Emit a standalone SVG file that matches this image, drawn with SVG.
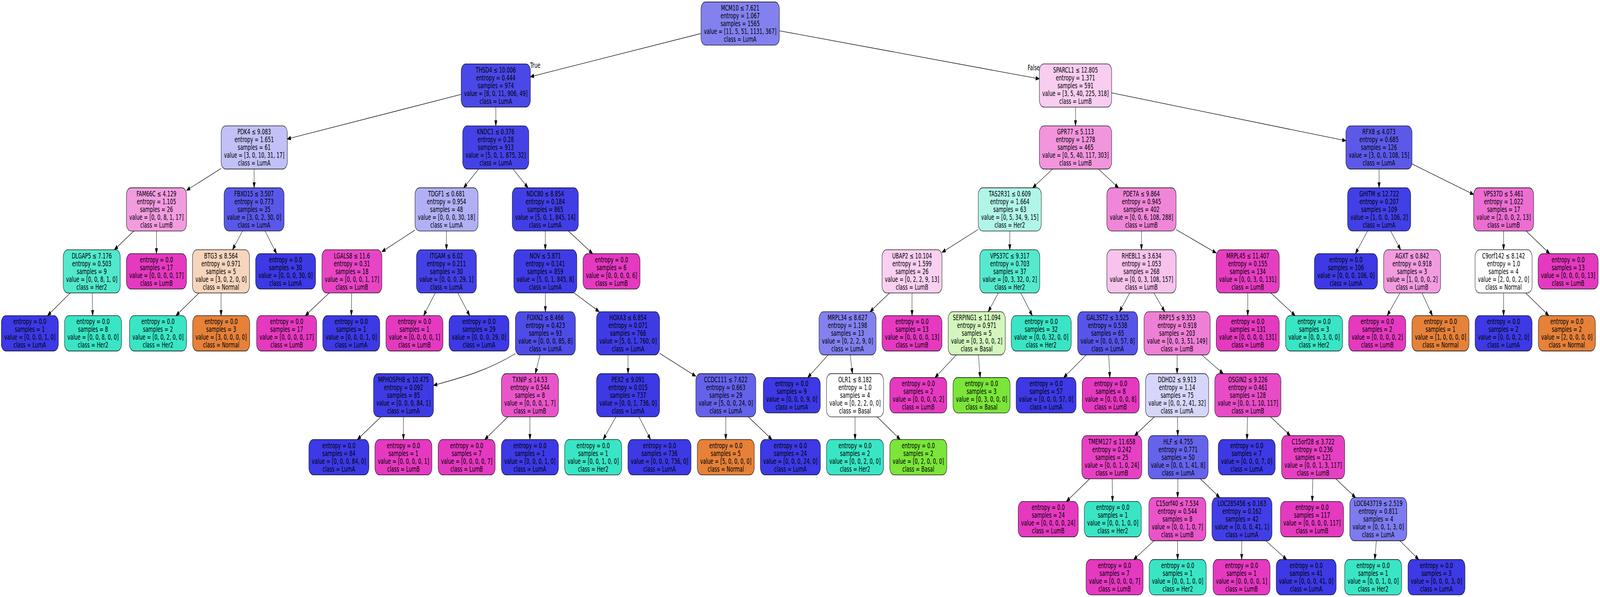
<svg xmlns="http://www.w3.org/2000/svg" width="6241" height="1529" viewBox="0 0 6241 1529" preserveAspectRatio="none">
<style>
svg{width:100%;height:100%}
text{font-family:"DejaVu Sans","Liberation Sans",sans-serif;font-size:18.67px;text-anchor:middle;fill:#000}
rect{stroke:#000;stroke-width:1.33}
rect.bg{fill:#fff;stroke:none}
.LA{fill:#3c39e5}.LB{fill:#e539c0}.H{fill:#39e5c5}.N{fill:#e58139}.Ba{fill:#7be539}
#edges line,#edges path{stroke:#000;stroke-width:1.33;fill:none;marker-end:url(#ah)}
</style>
<defs>
<marker id="ah" markerUnits="userSpaceOnUse" markerWidth="16" markerHeight="12" refX="13.33" refY="4.67" orient="auto" overflow="visible"><path d="M0,0 L13.33,4.67 L0,9.33 Z" fill="#000" stroke="#000" stroke-width="1.33"/></marker>
</defs>
<rect class="bg" x="0" y="0" width="6241" height="1529"/>
<g id="edges">
<line x1="2734.7" y1="85.7" x2="2068.7" y2="196.6"/>
<line x1="3039.7" y1="78.8" x2="4054" y2="201.9"/>
<line x1="1799.3" y1="241.7" x2="1120.6" y2="355.9"/>
<line x1="1934" y1="274.33" x2="1934" y2="322.33"/>
<line x1="862.6" y1="431.3" x2="727.6" y2="487.5"/>
<line x1="991.3" y1="433" x2="991.3" y2="481"/>
<line x1="522.2" y1="591.67" x2="445.9" y2="639.67"/>
<line x1="610.2" y1="591.67" x2="610.2" y2="649.67"/>
<line x1="273.7" y1="750.33" x2="185.4" y2="808.33"/>
<line x1="359.7" y1="750.33" x2="361.5" y2="808.33"/>
<line x1="946" y1="591.67" x2="907" y2="639.67"/>
<line x1="1033.9" y1="591.67" x2="1078.9" y2="649.67"/>
<line x1="776.3" y1="750.33" x2="686.5" y2="808.33"/>
<line x1="862.3" y1="750.33" x2="862.3" y2="808.33"/>
<line x1="1866.75" y1="433" x2="1808.65" y2="481"/>
<line x1="2001.1" y1="433" x2="2059.6" y2="481"/>
<line x1="1618.4" y1="589.35" x2="1489.7" y2="644.7"/>
<line x1="1741.5" y1="591.67" x2="1741.5" y2="639.67"/>
<line x1="1283.9" y1="750.33" x2="1190.8" y2="808.33"/>
<line x1="1371.5" y1="750.33" x2="1370.5" y2="808.33"/>
<line x1="1697.9" y1="750.33" x2="1652.3" y2="808.33"/>
<line x1="1785.7" y1="750.33" x2="1832.1" y2="808.33"/>
<line x1="2127" y1="591.67" x2="2127" y2="639.67"/>
<line x1="2217.1" y1="591.67" x2="2311.6" y2="649.67"/>
<line x1="2127.2" y1="750.33" x2="2127.2" y2="798.33"/>
<line x1="2239.6" y1="750.33" x2="2337.3" y2="798.33"/>
<path d="M2010.4,905.5 C1900,950 1800,967 1691.3,987"/>
<line x1="2106.4" y1="909" x2="2088.1" y2="957"/>
<line x1="1486" y1="1067.67" x2="1393.9" y2="1125.67"/>
<line x1="1573.8" y1="1067.67" x2="1573.7" y2="1125.67"/>
<line x1="1981" y1="1067.67" x2="1890.8" y2="1125.67"/>
<line x1="2067.1" y1="1067.67" x2="2067.1" y2="1125.67"/>
<line x1="2449.8" y1="909" x2="2449.8" y2="957"/>
<line x1="2572.8" y1="904.9" x2="2714" y2="963.6"/>
<line x1="2402.4" y1="1067.67" x2="2352.7" y2="1125.67"/>
<line x1="2492.6" y1="1067.67" x2="2537.4" y2="1125.67"/>
<line x1="2831.1" y1="1067.67" x2="2831" y2="1125.67"/>
<line x1="2918.9" y1="1067.67" x2="3011" y2="1125.67"/>
<line x1="4195.2" y1="274.33" x2="4195.2" y2="322.33"/>
<line x1="4336.45" y1="237.9" x2="5249.9" y2="360.4"/>
<line x1="4105.8" y1="433" x2="4028.2" y2="481"/>
<line x1="4284.9" y1="433" x2="4362.8" y2="481"/>
<line x1="3815.8" y1="587.5" x2="3674.5" y2="646.3"/>
<line x1="3938.8" y1="591.67" x2="3938.8" y2="639.67"/>
<line x1="3469.8" y1="750.33" x2="3393.7" y2="798.33"/>
<line x1="3557.5" y1="750.33" x2="3557.5" y2="808.33"/>
<line x1="3230.2" y1="909" x2="3150.6" y2="967"/>
<line x1="3316.2" y1="909" x2="3325" y2="957"/>
<line x1="3335.2" y1="1067.67" x2="3335.2" y2="1125.67"/>
<line x1="3421.3" y1="1067.67" x2="3511.5" y2="1125.67"/>
<line x1="3893.8" y1="750.33" x2="3854.8" y2="798.33"/>
<line x1="3981.6" y1="750.33" x2="4026.5" y2="808.33"/>
<line x1="3730.4" y1="909" x2="3647.1" y2="967"/>
<line x1="3816.4" y1="909" x2="3823.3" y2="967"/>
<line x1="4452.5" y1="591.67" x2="4452.5" y2="639.67"/>
<line x1="4587.8" y1="588.1" x2="4744" y2="647.9"/>
<line x1="4406.5" y1="750.33" x2="4366.5" y2="798.33"/>
<line x1="4501" y1="750.33" x2="4543" y2="798.33"/>
<line x1="4236.8" y1="909" x2="4149" y2="967"/>
<line x1="4324.7" y1="909" x2="4329.1" y2="967"/>
<line x1="4591.5" y1="909" x2="4591.5" y2="957"/>
<line x1="4687.7" y1="909" x2="4771.2" y2="957"/>
<line x1="4502.7" y1="1067.67" x2="4425.6" y2="1115.67"/>
<line x1="4592.9" y1="1067.67" x2="4594.1" y2="1115.67"/>
<line x1="4250.3" y1="1226.33" x2="4159.6" y2="1284.33"/>
<line x1="4338.2" y1="1226.33" x2="4339.6" y2="1284.33"/>
<line x1="4594.5" y1="1226.33" x2="4593.5" y2="1274.33"/>
<line x1="4682.3" y1="1226.33" x2="4757.7" y2="1274.33"/>
<line x1="4501.3" y1="1385" x2="4422.1" y2="1433"/>
<line x1="4593" y1="1385" x2="4593.6" y2="1433"/>
<line x1="4843.8" y1="1385" x2="4843.2" y2="1433"/>
<line x1="4937.7" y1="1385" x2="5018.6" y2="1433"/>
<line x1="4866" y1="1067.67" x2="4864" y2="1125.67"/>
<line x1="4956.2" y1="1067.67" x2="5033.2" y2="1115.67"/>
<line x1="5121" y1="1226.33" x2="5118.5" y2="1284.33"/>
<line x1="5210.6" y1="1226.33" x2="5287.5" y2="1274.33"/>
<line x1="5368.7" y1="1385" x2="5362.3" y2="1433"/>
<line x1="5460.6" y1="1385" x2="5533.9" y2="1433"/>
<line x1="4867" y1="750.33" x2="4867" y2="808.33"/>
<line x1="4957.2" y1="750.33" x2="5051.9" y2="808.33"/>
<line x1="5379.2" y1="433" x2="5379.2" y2="481"/>
<line x1="5507.9" y1="419.8" x2="5748" y2="498.1"/>
<line x1="5334.3" y1="591.67" x2="5287" y2="649.67"/>
<line x1="5424.3" y1="591.67" x2="5463.3" y2="639.67"/>
<line x1="5460.7" y1="750.33" x2="5411" y2="808.33"/>
<line x1="5546.7" y1="750.33" x2="5587.2" y2="808.33"/>
<line x1="5865" y1="591.67" x2="5865" y2="639.67"/>
<line x1="5952.8" y1="591.67" x2="6044.8" y2="649.67"/>
<line x1="5864.9" y1="750.33" x2="5864.9" y2="808.33"/>
<line x1="5951" y1="750.33" x2="6041.2" y2="808.33"/>
<text x="2088" y="174">True</text>
<text x="4032" y="180">False</text>
</g>
<g id="n0"><rect x="2734.4" y="5" width="305.6" height="110.67" rx="18" fill="#8381ee"/><text x="2887.2" y="27"><tspan x="2887.2">MCM10 ≤ 7.621</tspan><tspan x="2887.2" dy="20">entropy = 1.067</tspan><tspan x="2887.2" dy="20">samples = 1565</tspan><tspan x="2887.2" dy="20">value = [11, 5, 51, 1131, 367]</tspan><tspan x="2887.2" dy="20">class = LumA</tspan></text></g>
<g id="n1"><rect x="1799" y="163.67" width="270" height="110.67" rx="18" fill="#4a48e7"/><text x="1934" y="185.67"><tspan x="1934">THSD4 ≤ 10.006</tspan><tspan x="1934" dy="20">entropy = 0.444</tspan><tspan x="1934" dy="20">samples = 974</tspan><tspan x="1934" dy="20">value = [8, 0, 11, 906, 49]</tspan><tspan x="1934" dy="20">class = LumA</tspan></text></g>
<g id="n2"><rect x="862.6" y="322.33" width="258" height="110.67" rx="18" fill="#c1c0f7"/><text x="991.6" y="344.33"><tspan x="991.6">PDK4 ≤ 9.083</tspan><tspan x="991.6" dy="20">entropy = 1.651</tspan><tspan x="991.6" dy="20">samples = 61</tspan><tspan x="991.6" dy="20">value = [3, 0, 10, 31, 17]</tspan><tspan x="991.6" dy="20">class = LumA</tspan></text></g>
<g id="n3"><rect x="493.2" y="481" width="234" height="110.67" rx="18" fill="#f29ce0"/><text x="610.2" y="503"><tspan x="610.2">FAM66C ≤ 4.129</tspan><tspan x="610.2" dy="20">entropy = 1.105</tspan><tspan x="610.2" dy="20">samples = 26</tspan><tspan x="610.2" dy="20">value = [0, 0, 8, 1, 17]</tspan><tspan x="610.2" dy="20">class = LumB</tspan></text></g>
<g id="n4"><rect x="246.7" y="639.67" width="222.4" height="110.67" rx="18" fill="#52e8cc"/><text x="357.9" y="661.67"><tspan x="357.9">DLGAP5 ≤ 7.176</tspan><tspan x="357.9" dy="20">entropy = 0.503</tspan><tspan x="357.9" dy="20">samples = 9</tspan><tspan x="357.9" dy="20">value = [0, 0, 8, 1, 0]</tspan><tspan x="357.9" dy="20">class = Her2</tspan></text></g>
<g id="n5"><rect class="LA" x="5.2" y="808.33" width="222.4" height="90.67" rx="18"/><text x="116.4" y="830.33"><tspan x="116.4">entropy = 0.0</tspan><tspan x="116.4" dy="20">samples = 1</tspan><tspan x="116.4" dy="20">value = [0, 0, 0, 1, 0]</tspan><tspan x="116.4" dy="20">class = LumA</tspan></text></g>
<g id="n6"><rect class="H" x="251.8" y="808.33" width="222.4" height="90.67" rx="18"/><text x="363" y="830.33"><tspan x="363">entropy = 0.0</tspan><tspan x="363" dy="20">samples = 8</tspan><tspan x="363" dy="20">value = [0, 0, 8, 0, 0]</tspan><tspan x="363" dy="20">class = Her2</tspan></text></g>
<g id="n7"><rect class="LB" x="493.2" y="649.67" width="234" height="90.67" rx="18"/><text x="610.2" y="671.67"><tspan x="610.2">entropy = 0.0</tspan><tspan x="610.2" dy="20">samples = 17</tspan><tspan x="610.2" dy="20">value = [0, 0, 0, 0, 17]</tspan><tspan x="610.2" dy="20">class = LumB</tspan></text></g>
<g id="n8"><rect x="874" y="481" width="234" height="110.67" rx="18" fill="#5a58e9"/><text x="991" y="503"><tspan x="991">FBXO15 ≤ 3.507</tspan><tspan x="991" dy="20">entropy = 0.773</tspan><tspan x="991" dy="20">samples = 35</tspan><tspan x="991" dy="20">value = [3, 0, 2, 30, 0]</tspan><tspan x="991" dy="20">class = LumA</tspan></text></g>
<g id="n9"><rect x="750.8" y="639.67" width="222.4" height="110.67" rx="18" fill="#f6d5bd"/><text x="862" y="661.67"><tspan x="862">BTG3 ≤ 8.564</tspan><tspan x="862" dy="20">entropy = 0.971</tspan><tspan x="862" dy="20">samples = 5</tspan><tspan x="862" dy="20">value = [3, 0, 2, 0, 0]</tspan><tspan x="862" dy="20">class = Normal</tspan></text></g>
<g id="n10"><rect class="H" x="505.1" y="808.33" width="222.4" height="90.67" rx="18"/><text x="616.3" y="830.33"><tspan x="616.3">entropy = 0.0</tspan><tspan x="616.3" dy="20">samples = 2</tspan><tspan x="616.3" dy="20">value = [0, 0, 2, 0, 0]</tspan><tspan x="616.3" dy="20">class = Her2</tspan></text></g>
<g id="n11"><rect class="N" x="751.5" y="808.33" width="222.4" height="90.67" rx="18"/><text x="862.7" y="830.33"><tspan x="862.7">entropy = 0.0</tspan><tspan x="862.7" dy="20">samples = 3</tspan><tspan x="862.7" dy="20">value = [3, 0, 0, 0, 0]</tspan><tspan x="862.7" dy="20">class = Normal</tspan></text></g>
<g id="n12"><rect class="LA" x="997" y="649.67" width="234" height="90.67" rx="18"/><text x="1114" y="671.67"><tspan x="1114">entropy = 0.0</tspan><tspan x="1114" dy="20">samples = 30</tspan><tspan x="1114" dy="20">value = [0, 0, 0, 30, 0]</tspan><tspan x="1114" dy="20">class = LumA</tspan></text></g>
<g id="n13"><rect x="1804.7" y="322.33" width="258" height="110.67" rx="18" fill="#4442e6"/><text x="1933.7" y="344.33"><tspan x="1933.7">KNDC1 ≤ 0.376</tspan><tspan x="1933.7" dy="20">entropy = 0.28</tspan><tspan x="1933.7" dy="20">samples = 913</tspan><tspan x="1933.7" dy="20">value = [5, 0, 1, 875, 32]</tspan><tspan x="1933.7" dy="20">class = LumA</tspan></text></g>
<g id="n14"><rect x="1618.7" y="481" width="246" height="110.67" rx="18" fill="#b1b0f5"/><text x="1741.7" y="503"><tspan x="1741.7">TDGF1 ≤ 0.681</tspan><tspan x="1741.7" dy="20">entropy = 0.954</tspan><tspan x="1741.7" dy="20">samples = 48</tspan><tspan x="1741.7" dy="20">value = [0, 0, 0, 30, 18]</tspan><tspan x="1741.7" dy="20">class = LumA</tspan></text></g>
<g id="n15"><rect x="1255.7" y="639.67" width="234" height="110.67" rx="18" fill="#e745c4"/><text x="1372.7" y="661.67"><tspan x="1372.7">LGALS8 ≤ 11.6</tspan><tspan x="1372.7" dy="20">entropy = 0.31</tspan><tspan x="1372.7" dy="20">samples = 18</tspan><tspan x="1372.7" dy="20">value = [0, 0, 0, 1, 17]</tspan><tspan x="1372.7" dy="20">class = LumB</tspan></text></g>
<g id="n16"><rect class="LB" x="1001" y="808.33" width="234" height="90.67" rx="18"/><text x="1118" y="830.33"><tspan x="1118">entropy = 0.0</tspan><tspan x="1118" dy="20">samples = 17</tspan><tspan x="1118" dy="20">value = [0, 0, 0, 0, 17]</tspan><tspan x="1118" dy="20">class = LumB</tspan></text></g>
<g id="n17"><rect class="LA" x="1258.8" y="808.33" width="222.4" height="90.67" rx="18"/><text x="1370" y="830.33"><tspan x="1370">entropy = 0.0</tspan><tspan x="1370" dy="20">samples = 1</tspan><tspan x="1370" dy="20">value = [0, 0, 0, 1, 0]</tspan><tspan x="1370" dy="20">class = LumA</tspan></text></g>
<g id="n18"><rect x="1624.4" y="639.67" width="234" height="110.67" rx="18" fill="#4340e6"/><text x="1741.4" y="661.67"><tspan x="1741.4">ITGAM ≤ 6.02</tspan><tspan x="1741.4" dy="20">entropy = 0.211</tspan><tspan x="1741.4" dy="20">samples = 30</tspan><tspan x="1741.4" dy="20">value = [0, 0, 0, 29, 1]</tspan><tspan x="1741.4" dy="20">class = LumA</tspan></text></g>
<g id="n19"><rect class="LB" x="1505.5" y="808.33" width="222.4" height="90.67" rx="18"/><text x="1616.7" y="830.33"><tspan x="1616.7">entropy = 0.0</tspan><tspan x="1616.7" dy="20">samples = 1</tspan><tspan x="1616.7" dy="20">value = [0, 0, 0, 0, 1]</tspan><tspan x="1616.7" dy="20">class = LumB</tspan></text></g>
<g id="n20"><rect class="LA" x="1751.4" y="808.33" width="234" height="90.67" rx="18"/><text x="1868.4" y="830.33"><tspan x="1868.4">entropy = 0.0</tspan><tspan x="1868.4" dy="20">samples = 29</tspan><tspan x="1868.4" dy="20">value = [0, 0, 0, 29, 0]</tspan><tspan x="1868.4" dy="20">class = LumA</tspan></text></g>
<g id="n21"><rect x="1998" y="481" width="258" height="110.67" rx="18" fill="#413ee6"/><text x="2127" y="503"><tspan x="2127">NDC80 ≤ 8.854</tspan><tspan x="2127" dy="20">entropy = 0.184</tspan><tspan x="2127" dy="20">samples = 865</tspan><tspan x="2127" dy="20">value = [5, 0, 1, 845, 14]</tspan><tspan x="2127" dy="20">class = LumA</tspan></text></g>
<g id="n22"><rect x="2004.1" y="639.67" width="246" height="110.67" rx="18" fill="#3f3ce5"/><text x="2127.1" y="661.67"><tspan x="2127.1">NOV ≤ 5.871</tspan><tspan x="2127.1" dy="20">entropy = 0.141</tspan><tspan x="2127.1" dy="20">samples = 859</tspan><tspan x="2127.1" dy="20">value = [5, 0, 1, 845, 8]</tspan><tspan x="2127.1" dy="20">class = LumA</tspan></text></g>
<g id="n23"><rect x="2010.4" y="798.33" width="234" height="110.67" rx="18" fill="#4e4ce7"/><text x="2127.4" y="820.33"><tspan x="2127.4">FOXN2 ≤ 8.466</tspan><tspan x="2127.4" dy="20">entropy = 0.423</tspan><tspan x="2127.4" dy="20">samples = 93</tspan><tspan x="2127.4" dy="20">value = [0, 0, 0, 85, 8]</tspan><tspan x="2127.4" dy="20">class = LumA</tspan></text></g>
<g id="n24"><rect x="1456.9" y="957" width="234" height="110.67" rx="18" fill="#3e3be5"/><text x="1573.9" y="979"><tspan x="1573.9">MPHOSPH8 ≤ 10.475</tspan><tspan x="1573.9" dy="20">entropy = 0.092</tspan><tspan x="1573.9" dy="20">samples = 85</tspan><tspan x="1573.9" dy="20">value = [0, 0, 0, 84, 1]</tspan><tspan x="1573.9" dy="20">class = LumA</tspan></text></g>
<g id="n25"><rect class="LA" x="1204.9" y="1125.67" width="234" height="90.67" rx="18"/><text x="1321.9" y="1147.67"><tspan x="1321.9">entropy = 0.0</tspan><tspan x="1321.9" dy="20">samples = 84</tspan><tspan x="1321.9" dy="20">value = [0, 0, 0, 84, 0]</tspan><tspan x="1321.9" dy="20">class = LumA</tspan></text></g>
<g id="n26"><rect class="LB" x="1462.4" y="1125.67" width="222.4" height="90.67" rx="18"/><text x="1573.6" y="1147.67"><tspan x="1573.6">entropy = 0.0</tspan><tspan x="1573.6" dy="20">samples = 1</tspan><tspan x="1573.6" dy="20">value = [0, 0, 0, 0, 1]</tspan><tspan x="1573.6" dy="20">class = LumB</tspan></text></g>
<g id="n27"><rect x="1955.9" y="957" width="222.4" height="110.67" rx="18" fill="#e955c9"/><text x="2067.1" y="979"><tspan x="2067.1">TXNIP ≤ 14.53</tspan><tspan x="2067.1" dy="20">entropy = 0.544</tspan><tspan x="2067.1" dy="20">samples = 8</tspan><tspan x="2067.1" dy="20">value = [0, 0, 0, 1, 7]</tspan><tspan x="2067.1" dy="20">class = LumB</tspan></text></g>
<g id="n28"><rect class="LB" x="1709.1" y="1125.67" width="222.4" height="90.67" rx="18"/><text x="1820.3" y="1147.67"><tspan x="1820.3">entropy = 0.0</tspan><tspan x="1820.3" dy="20">samples = 7</tspan><tspan x="1820.3" dy="20">value = [0, 0, 0, 0, 7]</tspan><tspan x="1820.3" dy="20">class = LumB</tspan></text></g>
<g id="n29"><rect class="LA" x="1955.9" y="1125.67" width="222.4" height="90.67" rx="18"/><text x="2067.1" y="1147.67"><tspan x="2067.1">entropy = 0.0</tspan><tspan x="2067.1" dy="20">samples = 1</tspan><tspan x="2067.1" dy="20">value = [0, 0, 0, 1, 0]</tspan><tspan x="2067.1" dy="20">class = LumA</tspan></text></g>
<g id="n30"><rect x="2326.8" y="798.33" width="246" height="110.67" rx="18" fill="#3e3be5"/><text x="2449.8" y="820.33"><tspan x="2449.8">HOXA3 ≤ 6.854</tspan><tspan x="2449.8" dy="20">entropy = 0.071</tspan><tspan x="2449.8" dy="20">samples = 766</tspan><tspan x="2449.8" dy="20">value = [5, 0, 1, 760, 0]</tspan><tspan x="2449.8" dy="20">class = LumA</tspan></text></g>
<g id="n31"><rect x="2326.8" y="957" width="246" height="110.67" rx="18" fill="#3c39e5"/><text x="2449.8" y="979"><tspan x="2449.8">PEX2 ≤ 9.091</tspan><tspan x="2449.8" dy="20">entropy = 0.015</tspan><tspan x="2449.8" dy="20">samples = 737</tspan><tspan x="2449.8" dy="20">value = [0, 0, 1, 736, 0]</tspan><tspan x="2449.8" dy="20">class = LumA</tspan></text></g>
<g id="n32"><rect class="H" x="2202.6" y="1125.67" width="222.4" height="90.67" rx="18"/><text x="2313.8" y="1147.67"><tspan x="2313.8">entropy = 0.0</tspan><tspan x="2313.8" dy="20">samples = 1</tspan><tspan x="2313.8" dy="20">value = [0, 0, 1, 0, 0]</tspan><tspan x="2313.8" dy="20">class = Her2</tspan></text></g>
<g id="n33"><rect class="LA" x="2449.5" y="1125.67" width="246" height="90.67" rx="18"/><text x="2572.5" y="1147.67"><tspan x="2572.5">entropy = 0.0</tspan><tspan x="2572.5" dy="20">samples = 736</tspan><tspan x="2572.5" dy="20">value = [0, 0, 0, 736, 0]</tspan><tspan x="2572.5" dy="20">class = LumA</tspan></text></g>
<g id="n34"><rect x="2714.1" y="957" width="234" height="110.67" rx="18" fill="#6562ea"/><text x="2831.1" y="979"><tspan x="2831.1">CCDC111 ≤ 7.622</tspan><tspan x="2831.1" dy="20">entropy = 0.663</tspan><tspan x="2831.1" dy="20">samples = 29</tspan><tspan x="2831.1" dy="20">value = [5, 0, 0, 24, 0]</tspan><tspan x="2831.1" dy="20">class = LumA</tspan></text></g>
<g id="n35"><rect class="N" x="2719.8" y="1125.67" width="222.4" height="90.67" rx="18"/><text x="2831" y="1147.67"><tspan x="2831">entropy = 0.0</tspan><tspan x="2831" dy="20">samples = 5</tspan><tspan x="2831" dy="20">value = [5, 0, 0, 0, 0]</tspan><tspan x="2831" dy="20">class = Normal</tspan></text></g>
<g id="n36"><rect class="LA" x="2966" y="1125.67" width="234" height="90.67" rx="18"/><text x="3083" y="1147.67"><tspan x="3083">entropy = 0.0</tspan><tspan x="3083" dy="20">samples = 24</tspan><tspan x="3083" dy="20">value = [0, 0, 0, 24, 0]</tspan><tspan x="3083" dy="20">class = LumA</tspan></text></g>
<g id="n37"><rect class="LB" x="2274.2" y="649.67" width="222.4" height="90.67" rx="18"/><text x="2385.4" y="671.67"><tspan x="2385.4">entropy = 0.0</tspan><tspan x="2385.4" dy="20">samples = 6</tspan><tspan x="2385.4" dy="20">value = [0, 0, 0, 0, 6]</tspan><tspan x="2385.4" dy="20">class = LumB</tspan></text></g>
<g id="n38"><rect x="4054.2" y="163.67" width="282" height="110.67" rx="18" fill="#f8cdef"/><text x="4195.2" y="185.67"><tspan x="4195.2">SPARCL1 ≤ 12.805</tspan><tspan x="4195.2" dy="20">entropy = 1.371</tspan><tspan x="4195.2" dy="20">samples = 591</tspan><tspan x="4195.2" dy="20">value = [3, 5, 40, 225, 318]</tspan><tspan x="4195.2" dy="20">class = LumB</tspan></text></g>
<g id="n39"><rect x="4054.2" y="322.33" width="282" height="110.67" rx="18" fill="#f195dd"/><text x="4195.2" y="344.33"><tspan x="4195.2">GPR77 ≤ 5.113</tspan><tspan x="4195.2" dy="20">entropy = 1.278</tspan><tspan x="4195.2" dy="20">samples = 465</tspan><tspan x="4195.2" dy="20">value = [0, 5, 40, 117, 303]</tspan><tspan x="4195.2" dy="20">class = LumB</tspan></text></g>
<g id="n40"><rect x="3815.8" y="481" width="246" height="110.67" rx="18" fill="#b1f5e8"/><text x="3938.8" y="503"><tspan x="3938.8">TAS2R31 ≤ 0.609</tspan><tspan x="3938.8" dy="20">entropy = 1.664</tspan><tspan x="3938.8" dy="20">samples = 63</tspan><tspan x="3938.8" dy="20">value = [0, 5, 34, 9, 15]</tspan><tspan x="3938.8" dy="20">class = Her2</tspan></text></g>
<g id="n41"><rect x="3440.5" y="639.67" width="234" height="110.67" rx="18" fill="#f9d0f0"/><text x="3557.5" y="661.67"><tspan x="3557.5">UBAP2 ≤ 10.104</tspan><tspan x="3557.5" dy="20">entropy = 1.599</tspan><tspan x="3557.5" dy="20">samples = 26</tspan><tspan x="3557.5" dy="20">value = [0, 2, 2, 9, 13]</tspan><tspan x="3557.5" dy="20">class = LumB</tspan></text></g>
<g id="n42"><rect x="3194.8" y="798.33" width="222.4" height="110.67" rx="18" fill="#8381ee"/><text x="3306" y="820.33"><tspan x="3306">MRPL34 ≤ 8.627</tspan><tspan x="3306" dy="20">entropy = 1.198</tspan><tspan x="3306" dy="20">samples = 13</tspan><tspan x="3306" dy="20">value = [0, 2, 2, 9, 0]</tspan><tspan x="3306" dy="20">class = LumA</tspan></text></g>
<g id="n43"><rect class="LA" x="2977.3" y="967" width="222.4" height="90.67" rx="18"/><text x="3088.5" y="989"><tspan x="3088.5">entropy = 0.0</tspan><tspan x="3088.5" dy="20">samples = 9</tspan><tspan x="3088.5" dy="20">value = [0, 0, 0, 9, 0]</tspan><tspan x="3088.5" dy="20">class = LumA</tspan></text></g>
<g id="n44"><rect x="3224" y="957" width="222.4" height="110.67" rx="18" fill="#ffffff"/><text x="3335.2" y="979"><tspan x="3335.2">OLR1 ≤ 8.182</tspan><tspan x="3335.2" dy="20">entropy = 1.0</tspan><tspan x="3335.2" dy="20">samples = 4</tspan><tspan x="3335.2" dy="20">value = [0, 2, 2, 0, 0]</tspan><tspan x="3335.2" dy="20">class = Basal</tspan></text></g>
<g id="n45"><rect class="H" x="3224" y="1125.67" width="222.4" height="90.67" rx="18"/><text x="3335.2" y="1147.67"><tspan x="3335.2">entropy = 0.0</tspan><tspan x="3335.2" dy="20">samples = 2</tspan><tspan x="3335.2" dy="20">value = [0, 0, 2, 0, 0]</tspan><tspan x="3335.2" dy="20">class = Her2</tspan></text></g>
<g id="n46"><rect class="Ba" x="3470.8" y="1125.67" width="222.4" height="90.67" rx="18"/><text x="3582" y="1147.67"><tspan x="3582">entropy = 0.0</tspan><tspan x="3582" dy="20">samples = 2</tspan><tspan x="3582" dy="20">value = [0, 2, 0, 0, 0]</tspan><tspan x="3582" dy="20">class = Basal</tspan></text></g>
<g id="n47"><rect class="LB" x="3440.5" y="808.33" width="234" height="90.67" rx="18"/><text x="3557.5" y="830.33"><tspan x="3557.5">entropy = 0.0</tspan><tspan x="3557.5" dy="20">samples = 13</tspan><tspan x="3557.5" dy="20">value = [0, 0, 0, 0, 13]</tspan><tspan x="3557.5" dy="20">class = LumB</tspan></text></g>
<g id="n48"><rect x="3821.8" y="639.67" width="234" height="110.67" rx="18" fill="#56e9ce"/><text x="3938.8" y="661.67"><tspan x="3938.8">VPS37C ≤ 9.317</tspan><tspan x="3938.8" dy="20">entropy = 0.703</tspan><tspan x="3938.8" dy="20">samples = 37</tspan><tspan x="3938.8" dy="20">value = [0, 3, 32, 0, 2]</tspan><tspan x="3938.8" dy="20">class = Her2</tspan></text></g>
<g id="n49"><rect x="3698.6" y="798.33" width="222.4" height="110.67" rx="18" fill="#d3f6bd"/><text x="3809.8" y="820.33"><tspan x="3809.8">SERPING1 ≤ 11.094</tspan><tspan x="3809.8" dy="20">entropy = 0.971</tspan><tspan x="3809.8" dy="20">samples = 5</tspan><tspan x="3809.8" dy="20">value = [0, 3, 0, 0, 2]</tspan><tspan x="3809.8" dy="20">class = Basal</tspan></text></g>
<g id="n50"><rect class="LB" x="3470.8" y="967" width="222.4" height="90.67" rx="18"/><text x="3582" y="989"><tspan x="3582">entropy = 0.0</tspan><tspan x="3582" dy="20">samples = 2</tspan><tspan x="3582" dy="20">value = [0, 0, 0, 0, 2]</tspan><tspan x="3582" dy="20">class = LumB</tspan></text></g>
<g id="n51"><rect class="Ba" x="3717.5" y="967" width="222.4" height="90.67" rx="18"/><text x="3828.7" y="989"><tspan x="3828.7">entropy = 0.0</tspan><tspan x="3828.7" dy="20">samples = 3</tspan><tspan x="3828.7" dy="20">value = [0, 3, 0, 0, 0]</tspan><tspan x="3828.7" dy="20">class = Basal</tspan></text></g>
<g id="n52"><rect class="H" x="3944.5" y="808.33" width="234" height="90.67" rx="18"/><text x="4061.5" y="830.33"><tspan x="4061.5">entropy = 0.0</tspan><tspan x="4061.5" dy="20">samples = 32</tspan><tspan x="4061.5" dy="20">value = [0, 0, 32, 0, 0]</tspan><tspan x="4061.5" dy="20">class = Her2</tspan></text></g>
<g id="n53"><rect x="4317.5" y="481" width="270" height="110.67" rx="18" fill="#ef86d8"/><text x="4452.5" y="503"><tspan x="4452.5">PDE7A ≤ 9.864</tspan><tspan x="4452.5" dy="20">entropy = 0.945</tspan><tspan x="4452.5" dy="20">samples = 402</tspan><tspan x="4452.5" dy="20">value = [0, 0, 6, 108, 288]</tspan><tspan x="4452.5" dy="20">class = LumB</tspan></text></g>
<g id="n54"><rect x="4317.5" y="639.67" width="270" height="110.67" rx="18" fill="#f7c2ec"/><text x="4452.5" y="661.67"><tspan x="4452.5">RHEBL1 ≤ 3.634</tspan><tspan x="4452.5" dy="20">entropy = 1.053</tspan><tspan x="4452.5" dy="20">samples = 268</tspan><tspan x="4452.5" dy="20">value = [0, 0, 3, 108, 157]</tspan><tspan x="4452.5" dy="20">class = LumB</tspan></text></g>
<g id="n55"><rect x="4203.5" y="798.33" width="234" height="110.67" rx="18" fill="#5755e9"/><text x="4320.5" y="820.33"><tspan x="4320.5">GAL3ST2 ≤ 3.525</tspan><tspan x="4320.5" dy="20">entropy = 0.538</tspan><tspan x="4320.5" dy="20">samples = 65</tspan><tspan x="4320.5" dy="20">value = [0, 0, 0, 57, 8]</tspan><tspan x="4320.5" dy="20">class = LumA</tspan></text></g>
<g id="n56"><rect class="LA" x="3963.4" y="967" width="234" height="90.67" rx="18"/><text x="4080.4" y="989"><tspan x="4080.4">entropy = 0.0</tspan><tspan x="4080.4" dy="20">samples = 57</tspan><tspan x="4080.4" dy="20">value = [0, 0, 0, 57, 0]</tspan><tspan x="4080.4" dy="20">class = LumA</tspan></text></g>
<g id="n57"><rect class="LB" x="4221.3" y="967" width="222.4" height="90.67" rx="18"/><text x="4332.5" y="989"><tspan x="4332.5">entropy = 0.0</tspan><tspan x="4332.5" dy="20">samples = 8</tspan><tspan x="4332.5" dy="20">value = [0, 0, 0, 0, 8]</tspan><tspan x="4332.5" dy="20">class = LumB</tspan></text></g>
<g id="n58"><rect x="4462.5" y="798.33" width="258" height="110.67" rx="18" fill="#ee7fd6"/><text x="4591.5" y="820.33"><tspan x="4591.5">RRP15 ≤ 9.353</tspan><tspan x="4591.5" dy="20">entropy = 0.918</tspan><tspan x="4591.5" dy="20">samples = 203</tspan><tspan x="4591.5" dy="20">value = [0, 0, 3, 51, 149]</tspan><tspan x="4591.5" dy="20">class = LumB</tspan></text></g>
<g id="n59"><rect x="4468.5" y="957" width="246" height="110.67" rx="18" fill="#d6d6fa"/><text x="4591.5" y="979"><tspan x="4591.5">DDHD2 ≤ 9.913</tspan><tspan x="4591.5" dy="20">entropy = 1.14</tspan><tspan x="4591.5" dy="20">samples = 75</tspan><tspan x="4591.5" dy="20">value = [0, 0, 2, 41, 32]</tspan><tspan x="4591.5" dy="20">class = LumA</tspan></text></g>
<g id="n60"><rect x="4219.8" y="1115.67" width="234" height="110.67" rx="18" fill="#e641c3"/><text x="4336.8" y="1137.67"><tspan x="4336.8">TMEM127 ≤ 11.658</tspan><tspan x="4336.8" dy="20">entropy = 0.242</tspan><tspan x="4336.8" dy="20">samples = 25</tspan><tspan x="4336.8" dy="20">value = [0, 0, 1, 0, 24]</tspan><tspan x="4336.8" dy="20">class = LumB</tspan></text></g>
<g id="n61"><rect class="LB" x="3971.7" y="1284.33" width="234" height="90.67" rx="18"/><text x="4088.7" y="1306.33"><tspan x="4088.7">entropy = 0.0</tspan><tspan x="4088.7" dy="20">samples = 24</tspan><tspan x="4088.7" dy="20">value = [0, 0, 0, 0, 24]</tspan><tspan x="4088.7" dy="20">class = LumB</tspan></text></g>
<g id="n62"><rect class="H" x="4229.5" y="1284.33" width="222.4" height="90.67" rx="18"/><text x="4340.7" y="1306.33"><tspan x="4340.7">entropy = 0.0</tspan><tspan x="4340.7" dy="20">samples = 1</tspan><tspan x="4340.7" dy="20">value = [0, 0, 1, 0, 0]</tspan><tspan x="4340.7" dy="20">class = Her2</tspan></text></g>
<g id="n63"><rect x="4478.5" y="1115.67" width="234" height="110.67" rx="18" fill="#6663eb"/><text x="4595.5" y="1137.67"><tspan x="4595.5">HLF ≤ 4.755</tspan><tspan x="4595.5" dy="20">entropy = 0.771</tspan><tspan x="4595.5" dy="20">samples = 50</tspan><tspan x="4595.5" dy="20">value = [0, 0, 1, 41, 8]</tspan><tspan x="4595.5" dy="20">class = LumA</tspan></text></g>
<g id="n64"><rect x="4481.3" y="1274.33" width="222.4" height="110.67" rx="18" fill="#e955c9"/><text x="4592.5" y="1296.33"><tspan x="4592.5">C15orf40 ≤ 7.534</tspan><tspan x="4592.5" dy="20">entropy = 0.544</tspan><tspan x="4592.5" dy="20">samples = 8</tspan><tspan x="4592.5" dy="20">value = [0, 0, 1, 0, 7]</tspan><tspan x="4592.5" dy="20">class = LumB</tspan></text></g>
<g id="n65"><rect class="LB" x="4236.2" y="1433" width="222.4" height="90.67" rx="18"/><text x="4347.4" y="1455"><tspan x="4347.4">entropy = 0.0</tspan><tspan x="4347.4" dy="20">samples = 7</tspan><tspan x="4347.4" dy="20">value = [0, 0, 0, 0, 7]</tspan><tspan x="4347.4" dy="20">class = LumB</tspan></text></g>
<g id="n66"><rect class="H" x="4482.6" y="1433" width="222.4" height="90.67" rx="18"/><text x="4593.8" y="1455"><tspan x="4593.8">entropy = 0.0</tspan><tspan x="4593.8" dy="20">samples = 1</tspan><tspan x="4593.8" dy="20">value = [0, 0, 1, 0, 0]</tspan><tspan x="4593.8" dy="20">class = Her2</tspan></text></g>
<g id="n67"><rect x="4727.5" y="1274.33" width="234" height="110.67" rx="18" fill="#413ee6"/><text x="4844.5" y="1296.33"><tspan x="4844.5">LOC285456 ≤ 0.163</tspan><tspan x="4844.5" dy="20">entropy = 0.162</tspan><tspan x="4844.5" dy="20">samples = 42</tspan><tspan x="4844.5" dy="20">value = [0, 0, 0, 41, 1]</tspan><tspan x="4844.5" dy="20">class = LumA</tspan></text></g>
<g id="n68"><rect class="LB" x="4731.6" y="1433" width="222.4" height="90.67" rx="18"/><text x="4842.8" y="1455"><tspan x="4842.8">entropy = 0.0</tspan><tspan x="4842.8" dy="20">samples = 1</tspan><tspan x="4842.8" dy="20">value = [0, 0, 0, 0, 1]</tspan><tspan x="4842.8" dy="20">class = LumB</tspan></text></g>
<g id="n69"><rect class="LA" x="4978" y="1433" width="234" height="90.67" rx="18"/><text x="5095" y="1455"><tspan x="5095">entropy = 0.0</tspan><tspan x="5095" dy="20">samples = 41</tspan><tspan x="5095" dy="20">value = [0, 0, 0, 41, 0]</tspan><tspan x="5095" dy="20">class = LumA</tspan></text></g>
<g id="n70"><rect x="4738.4" y="957" width="258" height="110.67" rx="18" fill="#e74bc6"/><text x="4867.4" y="979"><tspan x="4867.4">OSGIN2 ≤ 9.226</tspan><tspan x="4867.4" dy="20">entropy = 0.461</tspan><tspan x="4867.4" dy="20">samples = 128</tspan><tspan x="4867.4" dy="20">value = [0, 0, 1, 10, 117]</tspan><tspan x="4867.4" dy="20">class = LumB</tspan></text></g>
<g id="n71"><rect class="LA" x="4751.8" y="1125.67" width="222.4" height="90.67" rx="18"/><text x="4863" y="1147.67"><tspan x="4863">entropy = 0.0</tspan><tspan x="4863" dy="20">samples = 7</tspan><tspan x="4863" dy="20">value = [0, 0, 0, 7, 0]</tspan><tspan x="4863" dy="20">class = LumA</tspan></text></g>
<g id="n72"><rect x="4999" y="1115.67" width="246" height="110.67" rx="18" fill="#e640c2"/><text x="5122" y="1137.67"><tspan x="5122">C15orf28 ≤ 3.722</tspan><tspan x="5122" dy="20">entropy = 0.236</tspan><tspan x="5122" dy="20">samples = 121</tspan><tspan x="5122" dy="20">value = [0, 0, 1, 3, 117]</tspan><tspan x="5122" dy="20">class = LumB</tspan></text></g>
<g id="n73"><rect class="LB" x="4994.7" y="1284.33" width="246" height="90.67" rx="18"/><text x="5117.7" y="1306.33"><tspan x="5117.7">entropy = 0.0</tspan><tspan x="5117.7" dy="20">samples = 117</tspan><tspan x="5117.7" dy="20">value = [0, 0, 0, 0, 117]</tspan><tspan x="5117.7" dy="20">class = LumB</tspan></text></g>
<g id="n74"><rect x="5264.9" y="1274.33" width="222.4" height="110.67" rx="18" fill="#7d7bee"/><text x="5376.1" y="1296.33"><tspan x="5376.1">LOC643719 ≤ 2.519</tspan><tspan x="5376.1" dy="20">entropy = 0.811</tspan><tspan x="5376.1" dy="20">samples = 4</tspan><tspan x="5376.1" dy="20">value = [0, 0, 1, 3, 0]</tspan><tspan x="5376.1" dy="20">class = LumA</tspan></text></g>
<g id="n75"><rect class="H" x="5245" y="1433" width="222.4" height="90.67" rx="18"/><text x="5356.2" y="1455"><tspan x="5356.2">entropy = 0.0</tspan><tspan x="5356.2" dy="20">samples = 1</tspan><tspan x="5356.2" dy="20">value = [0, 0, 1, 0, 0]</tspan><tspan x="5356.2" dy="20">class = Her2</tspan></text></g>
<g id="n76"><rect class="LA" x="5491.9" y="1433" width="222.4" height="90.67" rx="18"/><text x="5603.1" y="1455"><tspan x="5603.1">entropy = 0.0</tspan><tspan x="5603.1" dy="20">samples = 3</tspan><tspan x="5603.1" dy="20">value = [0, 0, 0, 3, 0]</tspan><tspan x="5603.1" dy="20">class = LumA</tspan></text></g>
<g id="n77"><rect x="4744" y="639.67" width="246" height="110.67" rx="18" fill="#e63ec1"/><text x="4867" y="661.67"><tspan x="4867">MRPL45 ≤ 11.407</tspan><tspan x="4867" dy="20">entropy = 0.155</tspan><tspan x="4867" dy="20">samples = 134</tspan><tspan x="4867" dy="20">value = [0, 0, 3, 0, 131]</tspan><tspan x="4867" dy="20">class = LumB</tspan></text></g>
<g id="n78"><rect class="LB" x="4744" y="808.33" width="246" height="90.67" rx="18"/><text x="4867" y="830.33"><tspan x="4867">entropy = 0.0</tspan><tspan x="4867" dy="20">samples = 131</tspan><tspan x="4867" dy="20">value = [0, 0, 0, 0, 131]</tspan><tspan x="4867" dy="20">class = LumB</tspan></text></g>
<g id="n79"><rect class="H" x="5014.6" y="808.33" width="222.4" height="90.67" rx="18"/><text x="5125.8" y="830.33"><tspan x="5125.8">entropy = 0.0</tspan><tspan x="5125.8" dy="20">samples = 3</tspan><tspan x="5125.8" dy="20">value = [0, 0, 3, 0, 0]</tspan><tspan x="5125.8" dy="20">class = Her2</tspan></text></g>
<g id="n80"><rect x="5249.9" y="322.33" width="258" height="110.67" rx="18" fill="#5c59e9"/><text x="5378.9" y="344.33"><tspan x="5378.9">RFX8 ≤ 4.073</tspan><tspan x="5378.9" dy="20">entropy = 0.685</tspan><tspan x="5378.9" dy="20">samples = 126</tspan><tspan x="5378.9" dy="20">value = [3, 0, 0, 108, 15]</tspan><tspan x="5378.9" dy="20">class = LumA</tspan></text></g>
<g id="n81"><rect x="5256.5" y="481" width="246" height="110.67" rx="18" fill="#413fe6"/><text x="5379.5" y="503"><tspan x="5379.5">GHITM ≤ 12.722</tspan><tspan x="5379.5" dy="20">entropy = 0.207</tspan><tspan x="5379.5" dy="20">samples = 109</tspan><tspan x="5379.5" dy="20">value = [1, 0, 0, 106, 2]</tspan><tspan x="5379.5" dy="20">class = LumA</tspan></text></g>
<g id="n82"><rect class="LA" x="5127" y="649.67" width="246" height="90.67" rx="18"/><text x="5250" y="671.67"><tspan x="5250">entropy = 0.0</tspan><tspan x="5250" dy="20">samples = 106</tspan><tspan x="5250" dy="20">value = [0, 0, 0, 106, 0]</tspan><tspan x="5250" dy="20">class = LumA</tspan></text></g>
<g id="n83"><rect x="5396.9" y="639.67" width="222.4" height="110.67" rx="18" fill="#f29ce0"/><text x="5508.1" y="661.67"><tspan x="5508.1">AGXT ≤ 0.842</tspan><tspan x="5508.1" dy="20">entropy = 0.918</tspan><tspan x="5508.1" dy="20">samples = 3</tspan><tspan x="5508.1" dy="20">value = [1, 0, 0, 0, 2]</tspan><tspan x="5508.1" dy="20">class = LumB</tspan></text></g>
<g id="n84"><rect class="LB" x="5260.9" y="808.33" width="222.4" height="90.67" rx="18"/><text x="5372.1" y="830.33"><tspan x="5372.1">entropy = 0.0</tspan><tspan x="5372.1" dy="20">samples = 2</tspan><tspan x="5372.1" dy="20">value = [0, 0, 0, 0, 2]</tspan><tspan x="5372.1" dy="20">class = LumB</tspan></text></g>
<g id="n85"><rect class="N" x="5507.7" y="808.33" width="222.4" height="90.67" rx="18"/><text x="5618.9" y="830.33"><tspan x="5618.9">entropy = 0.0</tspan><tspan x="5618.9" dy="20">samples = 1</tspan><tspan x="5618.9" dy="20">value = [1, 0, 0, 0, 0]</tspan><tspan x="5618.9" dy="20">class = Normal</tspan></text></g>
<g id="n86"><rect x="5748" y="481" width="234" height="110.67" rx="18" fill="#ec6ed1"/><text x="5865" y="503"><tspan x="5865">VPS37D ≤ 5.461</tspan><tspan x="5865" dy="20">entropy = 1.022</tspan><tspan x="5865" dy="20">samples = 17</tspan><tspan x="5865" dy="20">value = [2, 0, 0, 2, 13]</tspan><tspan x="5865" dy="20">class = LumB</tspan></text></g>
<g id="n87"><rect x="5753.7" y="639.67" width="222.4" height="110.67" rx="18" fill="#ffffff"/><text x="5864.9" y="661.67"><tspan x="5864.9">C9orf142 ≤ 8.142</tspan><tspan x="5864.9" dy="20">entropy = 1.0</tspan><tspan x="5864.9" dy="20">samples = 4</tspan><tspan x="5864.9" dy="20">value = [2, 0, 0, 2, 0]</tspan><tspan x="5864.9" dy="20">class = Normal</tspan></text></g>
<g id="n88"><rect class="LA" x="5753.7" y="808.33" width="222.4" height="90.67" rx="18"/><text x="5864.9" y="830.33"><tspan x="5864.9">entropy = 0.0</tspan><tspan x="5864.9" dy="20">samples = 2</tspan><tspan x="5864.9" dy="20">value = [0, 0, 0, 2, 0]</tspan><tspan x="5864.9" dy="20">class = LumA</tspan></text></g>
<g id="n89"><rect class="N" x="6000.5" y="808.33" width="222.4" height="90.67" rx="18"/><text x="6111.7" y="830.33"><tspan x="6111.7">entropy = 0.0</tspan><tspan x="6111.7" dy="20">samples = 2</tspan><tspan x="6111.7" dy="20">value = [2, 0, 0, 0, 0]</tspan><tspan x="6111.7" dy="20">class = Normal</tspan></text></g>
<g id="n90"><rect class="LB" x="5999.7" y="649.67" width="234" height="90.67" rx="18"/><text x="6116.7" y="671.67"><tspan x="6116.7">entropy = 0.0</tspan><tspan x="6116.7" dy="20">samples = 13</tspan><tspan x="6116.7" dy="20">value = [0, 0, 0, 0, 13]</tspan><tspan x="6116.7" dy="20">class = LumB</tspan></text></g>
</svg>
